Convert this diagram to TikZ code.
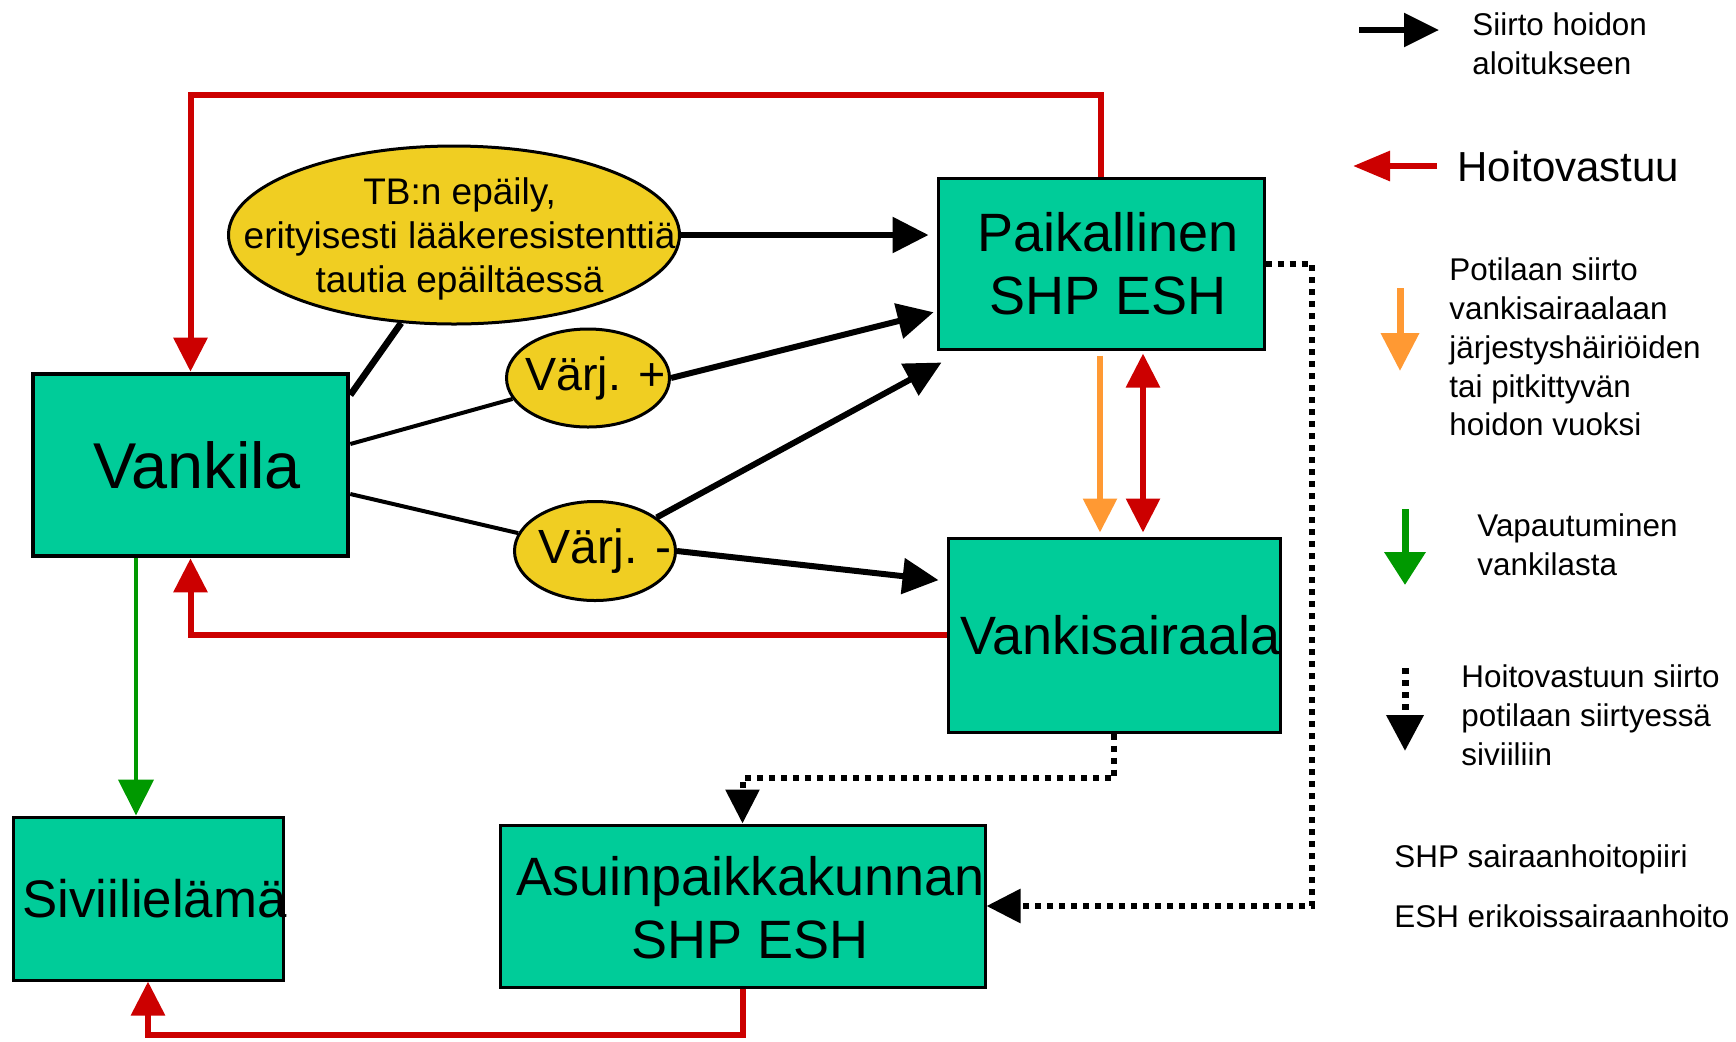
\documentclass[tikz,border=0pt]{standalone}
\usepackage{fontspec}
\setmainfont{Liberation Sans}
\usetikzlibrary{arrows.meta,shapes.geometric}
\definecolor{boxc}{RGB}{0,204,153}
\definecolor{ellc}{RGB}{240,206,34}
\definecolor{redc}{RGB}{204,0,0}
\definecolor{orc}{RGB}{255,153,51}
\definecolor{grc}{RGB}{0,153,0}
\begin{document}
\begin{tikzpicture}[x=0.5pt,y=-0.5pt,
 box/.style={draw=black,line width=1.5pt,fill=boxc,rectangle,inner sep=0pt},
 btext/.style={inner sep=0pt,align=center,font=\fontsize{27}{31.5}\selectfont},
 ell/.style={draw=black,line width=1.5pt,fill=ellc,ellipse,inner sep=0pt},
 etext/.style={inner sep=0pt,align=center},
 blk/.style={line width=3pt,-{Triangle[length=18pt,width=17.5pt]}},
 conn/.style={line width=2pt},
 redarr/.style={draw=redc,line width=3pt,-{Triangle[length=17pt,width=16.5pt]},redc},
 dotarr/.style={line width=3pt,dash pattern=on 3pt off 3pt,-{Triangle[length=17pt,width=16.5pt]}},
 leg/.style={anchor=west,inner sep=0pt,align=left,font=\fontsize{15.7}{19.4}\selectfont}]
\useasboundingbox (0,0) rectangle (1736,1041);

% coordinates for routing
\coordinate (topy) at (0,95);
\coordinate (boty) at (0,1035);
\coordinate (gx) at (136,0);
\coordinate (ox) at (1100,0);
\coordinate (rx) at (1143,0);
\coordinate (dcor) at (1312,0);
\coordinate (my) at (0,778);

% boxes
\node[box,minimum width=157.5pt,minimum height=91pt,line width=2.3pt] (vankila) at (190.5,465) {};
\node[btext,font=\fontsize{32.4}{36}\selectfont] (vankilatext) at ([xshift=3.3pt]vankila) {Vankila};
\node[box,minimum width=163pt,minimum height=85.5pt] (paik) at (1101,263.5) {};
\node[btext] (paiktext) at ([xshift=3.3pt]paik) {Paikallinen\\SHP ESH};
\node[box,minimum width=166pt,minimum height=97pt] (vsair) at (1114,635) {};
\node[btext] (vsairtext) at ([xshift=3.3pt]vsair) {Vankisairaala};
\node[box,minimum width=135pt,minimum height=81.5pt] (siv) at (148,898.5) {};
\node[btext,font=\fontsize{26.4}{30}\selectfont] (sivtext) at ([xshift=3.3pt]siv) {Siviilielämä};
\node[box,minimum width=242.5pt,minimum height=81pt] (asu) at (742.5,906) {};
\node[btext] (asutext) at ([xshift=4pt,yshift=-1pt]asu) {Asuinpaikkakunnan\\SHP ESH};

% ellipses
\node[ell,minimum width=225.5pt,minimum height=89pt] (tb) at (454,235) {};
\node[etext,font=\fontsize{18.5}{22}\selectfont] (tbtext) at ([xshift=2.8pt,yshift=-2.2pt]tb) {TB:n epäily,\\erityisesti lääkeresistenttiä\\tautia epäiltäessä};
\node[ell,minimum width=81.5pt,minimum height=49pt] (vp) at (588,378) {};
\node[etext,font=\fontsize{23.3}{28}\selectfont] (vptext) at ([xshift=3.8pt]vp) {Värj. +};
\node[ell,minimum width=80.5pt,minimum height=49.5pt] (vm) at (595,551) {};
\node[etext,font=\fontsize{24}{28}\selectfont] (vmtext) at ([xshift=5pt]vm) {Värj. -};

% Vankila connections
\draw[line width=3.3pt] ([yshift=35pt]vankila.east) -- (tb.239);
\draw[conn] ([yshift=10.5pt]vankila.east) -- (vp);
\draw[conn] ([yshift=-14.5pt]vankila.east) -- (vm);

% black arrows
\draw[blk,shorten >=4pt] (tb.east) -- (paik.west |- tb.east);
\draw[blk,shorten >=1.5pt] (vp.east) -- ([yshift=-24pt]paik.west);
\draw[blk] (vm) -- ([xshift=2.5pt,yshift=-6pt]paik.south west);
\draw[blk,shorten >=4pt] (vm.east) -- ([yshift=27pt]vsair.west);

% red arrows
\draw[redarr] (paik.north) -- (paik.north |- topy) -| (vankila.north);
\draw[redarr] (vsair.west) -| (vankila.south);
\draw[redarr] (asu.south) -- (asu.south |- boty) -| (siv.south);
\draw[redarr,-,{Triangle[length=17pt,width=16.5pt]}-{Triangle[length=17pt,width=16.5pt]},shorten <=1.5pt,shorten >=2pt] (paik.south -| rx) -- (vsair.north -| rx);

% orange, green
\draw[orc,line width=3pt,-{Triangle[length=17pt,width=16.5pt]},shorten <=2.5pt,shorten >=2pt] (paik.south -| ox) -- (vsair.north -| ox);
\draw[grc,line width=2pt,-{Triangle[length=18pt,width=17.5pt]}] (vankila.south -| gx) -- (siv.north -| gx);

% dotted
\draw[dotarr] (paik.east) -| (dcor |- asu.east) -- (asu.east);
\draw[dotarr] (vsair.south) -- (vsair.south |- my) -| (asu.north);

% legend
\coordinate (l1a) at (1359,30); \coordinate (l1b) at (1439,30);
\draw[line width=2.75pt,-{Triangle[length=17.5pt,width=16.5pt]}] (l1a) -- (l1b);
\node[leg] (t1) at (1472,44) {Siirto hoidon\\aloitukseen};

\coordinate (l2a) at (1437,166); \coordinate (l2b) at (1353,166);
\draw[redc,line width=3pt,-{Triangle[length=18.5pt,width=14.5pt]}] (l2a) -- (l2b);
\node[leg,font=\fontsize{21}{25}\selectfont] (t2) at (1457,166) {Hoitovastuu};

\coordinate (l3a) at (1400,288); \coordinate (l3b) at (1400,371);
\draw[orc,line width=3.5pt,-{Triangle[length=19pt,width=18.5pt]}] (l3a) -- (l3b);
\node[leg] (t3) at (1449,347) {Potilaan siirto\\vankisairaalaan\\järjestyshäiriöiden\\tai pitkittyvän\\hoidon vuoksi};

\coordinate (l4a) at (1405,509); \coordinate (l4b) at (1405,585);
\draw[grc,line width=3.5pt,-{Triangle[length=16.5pt,width=20pt]}] (l4a) -- (l4b);
\node[leg] (t4) at (1477,545) {Vapautuminen\\vankilasta};

\coordinate (l5a) at (1405,668); \coordinate (l5b) at (1405,751);
\draw[line width=3.5pt,dash pattern=on 3pt off 3pt,-{Triangle[length=18pt,width=18pt]}] (l5a) -- (l5b);
\node[leg] (t5) at (1461,715) {Hoitovastuun siirto\\potilaan siirtyessä\\siviiliin};

\node[leg] (t6) at (1394,859) {SHP sairaanhoitopiiri};
\node[leg] (t7) at (1394,916) {ESH erikoissairaanhoito};
\end{tikzpicture}
\end{document}
